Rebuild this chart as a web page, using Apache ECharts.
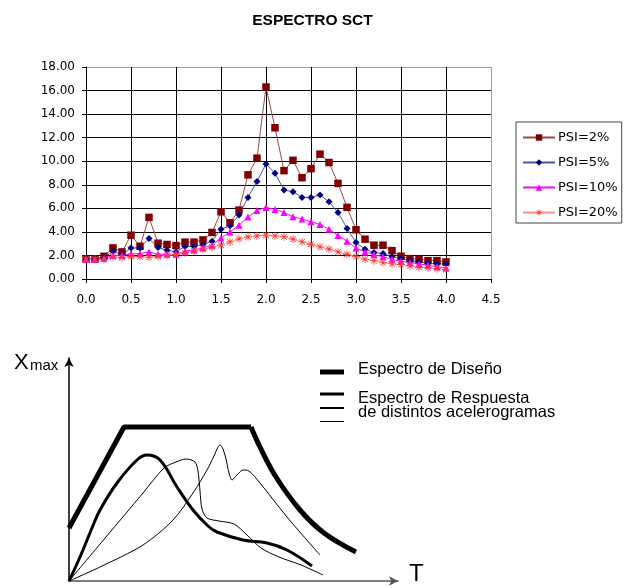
<!DOCTYPE html>
<html>
<head>
<meta charset="utf-8">
<script src="https://cdn.jsdelivr.net/npm/echarts@6/dist/echarts.min.js"></script>
<style>
  html, body { margin: 0; padding: 0; background: #fff; }
  #chart { width: 625px; height: 588px; }
</style>
</head>
<body>
<div id="chart"></div>
<script>
// periods T (s)
var periods = [0.0, 0.1, 0.2, 0.3, 0.4, 0.5, 0.6, 0.7, 0.8, 0.9,
  1.0, 1.1, 1.2, 1.3, 1.4, 1.5, 1.6, 1.7, 1.8, 1.9,
  2.0, 2.1, 2.2, 2.3, 2.4, 2.5, 2.6, 2.7, 2.8, 2.9,
  3.0, 3.1, 3.2, 3.3, 3.4, 3.5, 3.6, 3.7, 3.8, 3.9, 4.0];

var psi2 = [1.70, 1.70, 1.93, 2.64, 2.30, 3.72, 2.78, 5.23, 3.04, 2.93,
  2.84, 3.13, 3.13, 3.32, 3.95, 5.71, 4.77, 5.85, 8.84, 10.26,
  16.30, 12.84, 9.20, 10.08, 8.60, 9.37, 10.60, 9.89, 8.12, 6.08,
  4.18, 3.38, 2.87, 2.87, 2.41, 1.93, 1.73, 1.68, 1.56, 1.56, 1.45];

var psi5 = [1.68, 1.68, 1.85, 2.33, 2.07, 2.64, 2.64, 3.44, 2.67, 2.44,
  2.30, 2.76, 2.76, 2.93, 3.21, 4.23, 4.52, 5.43, 6.93, 8.27,
  9.77, 8.98, 7.56, 7.41, 6.93, 6.93, 7.13, 6.56, 5.65, 4.29,
  3.10, 2.53, 2.24, 2.16, 1.90, 1.73, 1.56, 1.45, 1.34, 1.28, 1.28];

var psi10 = [1.68, 1.68, 1.73, 2.00, 2.00, 2.13, 2.16, 2.30, 2.10, 2.10,
  2.10, 2.36, 2.47, 2.64, 2.87, 3.49, 4.00, 4.57, 5.26, 5.82,
  6.08, 5.90, 5.65, 5.28, 5.09, 4.86, 4.63, 4.23, 3.69, 3.21,
  2.64, 2.30, 2.07, 1.88, 1.68, 1.50, 1.39, 1.28, 1.16, 1.05, 0.94];

var psi20 = [1.68, 1.68, 1.68, 1.88, 1.82, 1.93, 1.88, 1.85, 1.93, 2.00,
  2.07, 2.22, 2.36, 2.53, 2.70, 2.87, 3.15, 3.41, 3.58, 3.66,
  3.72, 3.66, 3.58, 3.38, 3.15, 2.95, 2.73, 2.53, 2.30, 2.10,
  1.90, 1.68, 1.56, 1.39, 1.28, 1.22, 1.11, 0.99, 0.94, 0.88, 0.82];

var seriesNames = ['PSI=2%', 'PSI=5%', 'PSI=10%', 'PSI=20%'];

// schematic below: [T, Xmax] in arbitrary drawing units
var designRamp = [[0, 53], [55, 154], [182, 154]];
var designTail = [[182, 154], [191, 134], [207, 104], [231, 71], [255, 48], [287, 29]];
var respThick = [[0, 0], [11, 24], [23, 53], [31, 71], [48, 98], [68, 121], [78, 126], [91, 121],
  [108, 94], [124, 71], [139, 55], [148, 49], [174, 41], [198, 38], [218, 31], [243, 15]];
var respThinA = [[0, 0], [37, 44], [74, 88], [95, 113], [107, 119], [117, 122], [126, 119], [129, 110],
  [131, 90], [133, 72], [138, 63], [150, 60], [165, 57], [178, 46], [192, 33], [210, 24], [232, 16], [254, 6]];
var respThinB = [[0, 0], [31, 14], [74, 36], [104, 61], [124, 88], [138, 111], [145, 125], [149, 134],
  [151, 136], [154, 132], [157, 122], [160, 108], [163, 101], [168, 106], [174, 111], [180, 110],
  [191, 98], [218, 64], [251, 26]];

var starPath = 'path://M0 4.5h10v1h-10z M4.5 0h1v10h-1z M1.1 1.8L1.8 1.1L8.9 8.2L8.2 8.9z M8.2 1.1L8.9 1.8L1.8 8.9L1.1 8.2z';

function pairs(vals) {
  return periods.map(function (t, i) { return [t, vals[i]]; });
}

function splitColors(n) {
  var c = [];
  for (var i = 0; i < n - 1; i++) c.push('#000');
  c.push('#a0a0a0');
  return c;
}

var font = 'DejaVu Sans';
var myChart = echarts.init(document.getElementById('chart'), null, {renderer: 'canvas'});

var option = {
  backgroundColor: '#fff',
  animation: false,
  title: {
    text: 'ESPECTRO SCT',
    left: 'center',
    top: 8,
    textStyle: {fontFamily: 'Liberation Sans', fontWeight: 'bold', fontSize: 15.5, color: '#000'}
  },
  legend: {
    data: seriesNames,
    orient: 'vertical',
    left: 516,
    top: 122,
    padding: [9, 4, 4, 6],
    itemWidth: 32,
    itemHeight: 8,
    itemGap: 12,
    borderColor: '#444',
    borderWidth: 1,
    textStyle: {fontFamily: font, fontSize: 13, color: '#000', padding: [0, 0, 0, -2]}
  },
  grid: [
    {left: 86, top: 67, width: 405, height: 212},
    {left: 69, top: 358, width: 329, height: 223}
  ],
  xAxis: [
    {
      type: 'value', gridIndex: 0, min: 0, max: 4.5, interval: 0.5,
      axisLine: {lineStyle: {color: '#000', width: 1}},
      axisTick: {show: true, length: 4, lineStyle: {color: '#000'}},
      axisLabel: {margin: 15, fontFamily: font, fontSize: 12, color: '#000',
        formatter: function (v) { return v.toFixed(1); }},
      splitLine: {show: true, lineStyle: {color: splitColors(10), width: 1}}
    },
    {
      type: 'value', gridIndex: 1, min: 0, max: 329,
      axisLine: {show: true, symbol: ['none', 'arrow'], symbolSize: [7, 9], lineStyle: {color: '#555', width: 1.5}},
      axisTick: {show: false}, axisLabel: {show: false}, splitLine: {show: false}
    }
  ],
  yAxis: [
    {
      type: 'value', gridIndex: 0, min: 0, max: 18, interval: 2,
      axisLine: {show: true, lineStyle: {color: '#000', width: 1}},
      axisTick: {show: true, length: 4, lineStyle: {color: '#000'}},
      axisLabel: {margin: 11, fontFamily: font, fontSize: 12, color: '#000',
        formatter: function (v) { return v.toFixed(2); }},
      splitLine: {show: true, lineStyle: {color: splitColors(10), width: 1}}
    },
    {
      type: 'value', gridIndex: 1, min: 0, max: 223,
      axisLine: {show: true, symbol: ['none', 'arrow'], symbolSize: [7, 9], lineStyle: {color: '#000', width: 1.5}},
      axisTick: {show: false}, axisLabel: {show: false}, splitLine: {show: false}
    }
  ],
  series: [
    {
      name: seriesNames[0], type: 'line', data: pairs(psi2),
      symbol: 'rect', symbolSize: 7.5,
      itemStyle: {color: '#800000'}, lineStyle: {color: '#9a4848', width: 1}
    },
    {
      name: seriesNames[1], type: 'line', data: pairs(psi5),
      symbol: 'diamond', symbolSize: 7,
      itemStyle: {color: '#000080'}, lineStyle: {color: '#4a55a0', width: 1}
    },
    {
      name: seriesNames[2], type: 'line', data: pairs(psi10),
      symbol: 'triangle', symbolSize: 7,
      itemStyle: {color: '#ff00ff'}, lineStyle: {color: '#ff00ff', width: 1}
    },
    {
      name: seriesNames[3], type: 'line', data: pairs(psi20),
      symbol: starPath, symbolSize: 8,
      itemStyle: {color: '#ff3838'}, lineStyle: {color: '#ff8c8c', width: 1}
    },
    {
      type: 'line', xAxisIndex: 1, yAxisIndex: 1, data: designRamp,
      showSymbol: false, lineStyle: {color: '#000', width: 5}
    },
    {
      type: 'line', xAxisIndex: 1, yAxisIndex: 1, data: designTail, smooth: 0.4,
      showSymbol: false, lineStyle: {color: '#000', width: 5}
    },
    {
      type: 'line', xAxisIndex: 1, yAxisIndex: 1, data: respThick, smooth: 0.4,
      showSymbol: false, lineStyle: {color: '#000', width: 3}
    },
    {
      type: 'line', xAxisIndex: 1, yAxisIndex: 1, data: respThinA, smooth: 0.3,
      showSymbol: false, lineStyle: {color: '#000', width: 1}
    },
    {
      type: 'line', xAxisIndex: 1, yAxisIndex: 1, data: respThinB, smooth: 0.3,
      showSymbol: false, lineStyle: {color: '#000', width: 1}
    }
  ],
  graphic: [
    {type: 'text', left: 14, top: 352, style: {text: 'X', fontFamily: 'Liberation Sans', fontSize: 22, fill: '#000'}},
    {type: 'text', left: 30, top: 358, style: {text: 'max', fontFamily: 'Liberation Sans', fontSize: 15, fill: '#000'}},
    {type: 'text', left: 409, top: 562, style: {text: 'T', fontFamily: 'Liberation Sans', fontSize: 24, fill: '#000'}},
    {type: 'line', shape: {x1: 320, y1: 372, x2: 344, y2: 372}, style: {stroke: '#000', lineWidth: 5}},
    {type: 'line', shape: {x1: 320, y1: 394, x2: 344, y2: 394}, style: {stroke: '#000', lineWidth: 3}},
    {type: 'line', shape: {x1: 320, y1: 408, x2: 344, y2: 408}, style: {stroke: '#000', lineWidth: 2}},
    {type: 'line', shape: {x1: 320, y1: 421.5, x2: 344, y2: 421.5}, style: {stroke: '#000', lineWidth: 1}},
    {type: 'text', left: 358, top: 361, style: {text: 'Espectro de Diseño', fontFamily: 'Liberation Sans', fontSize: 16.5, fill: '#000'}},
    {type: 'text', left: 358, top: 390, style: {text: 'Espectro de Respuesta\nde distintos acelerogramas', fontFamily: 'Liberation Sans', fontSize: 16.5, lineHeight: 13.5, fill: '#000'}}
  ]
};

myChart.setOption(option);
</script>
</body>
</html>
